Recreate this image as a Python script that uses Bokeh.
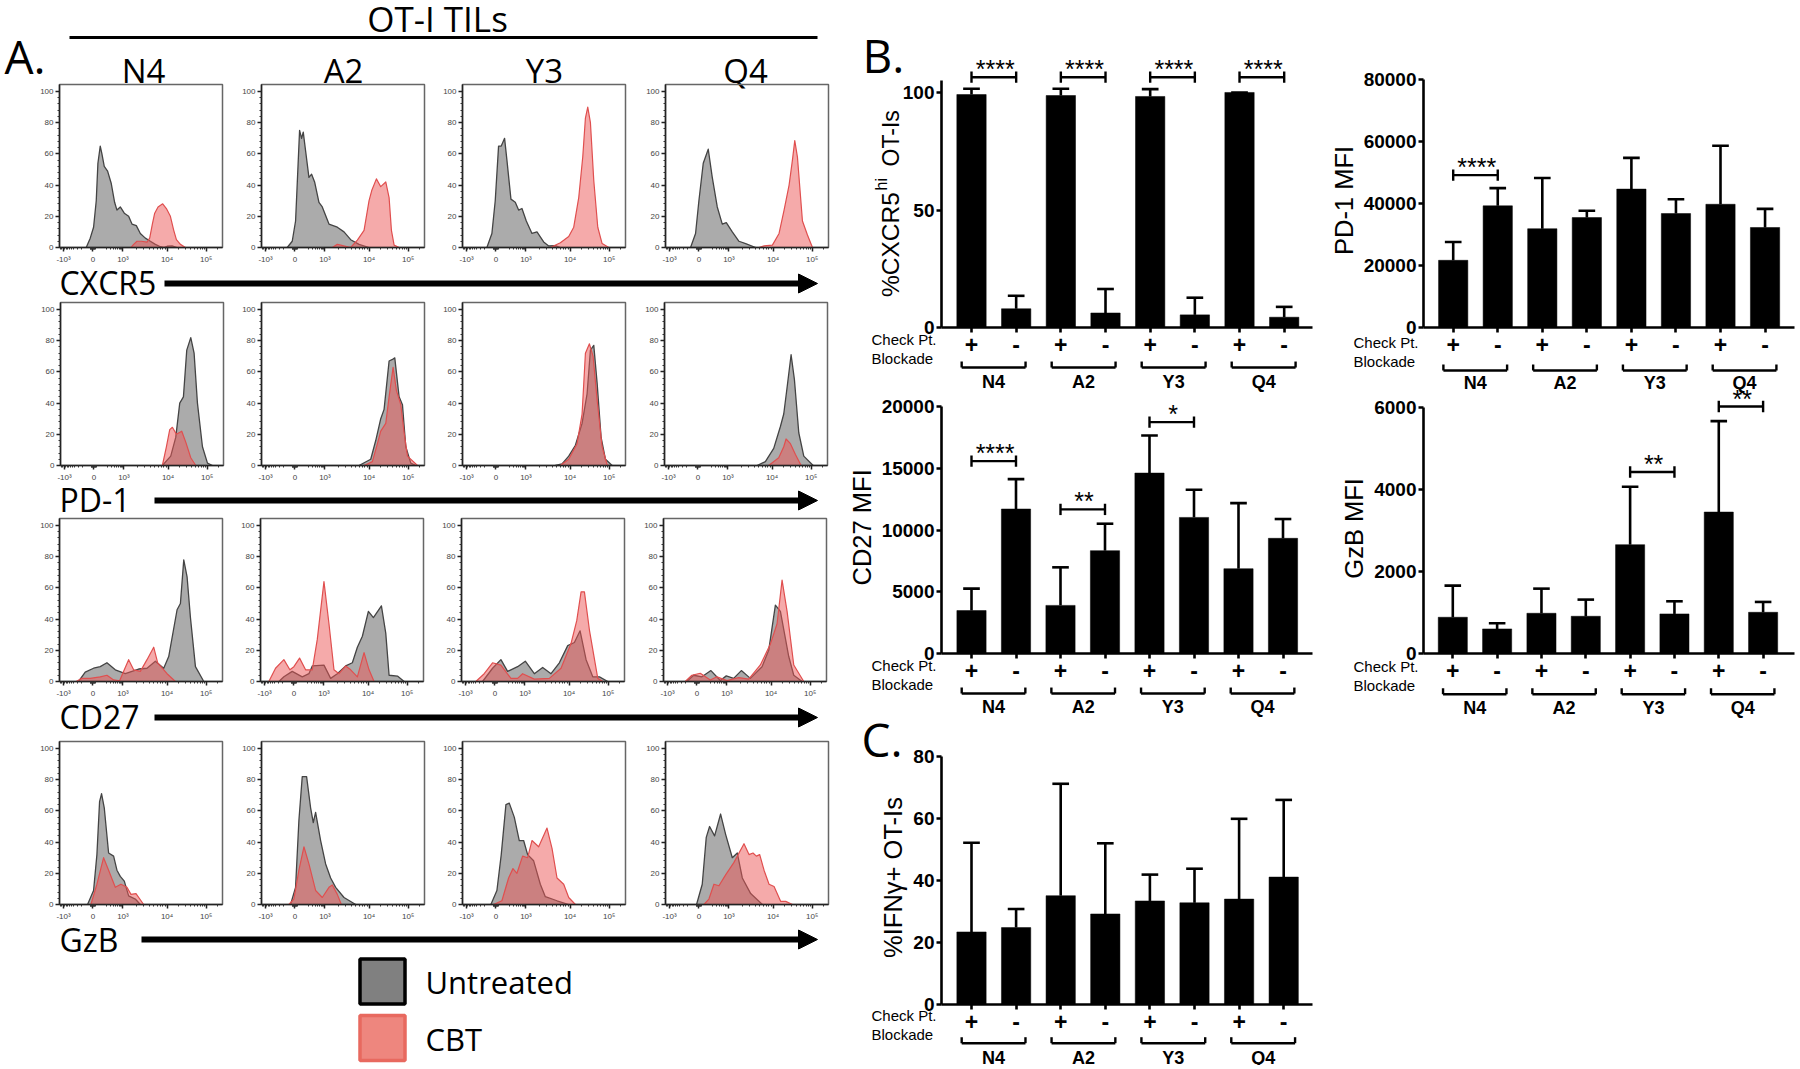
import math
from bokeh.plotting import figure
from bokeh.models import Range1d, LinearAxis, FixedTicker
from bokeh.core.properties import value
from bokeh.embed import file_html
from bokeh.resources import INLINE

# ---------- flow histograms: (channel, % of max) ----------
cxcr5_n4_untreated = [(80,0),(92,6),(102,13),(110,30),(115,54),(122,65),(127,60),(134,52),(144,49),(155,41),(165,29),(172,24),(182,26),(194,22),(207,20),(217,15),(230,14),(242,9),(257,6),(272,4),(287,2),(302,.5),(312,0),(322,.8),(337,1),(352,0)]
cxcr5_n4_cbt = [(214,0),(222,2),(232,4),(245,4),(262,3.5),(270,6),(278,15),(285,22),(295,26),(309,28),(320,25),(332,20),(342,11),(350,5),(362,2),(377,0)]
cxcr5_a2_untreated = [(77,0),(92,4),(102,17),(107,41),(114,75),(120,70),(125,74),(132,62),(142,45),(150,47),(159,42),(172,29),(182,26),(202,15),(227,13),(247,10),(267,5),(292,2),(322,0)]
cxcr5_a2_cbt = [(212,0),(227,2),(237,1.5),(267,0),(287,4.7),(307,11),(322,30),(330,36.5),(344,44),(357,39),(372,42),(382,32),(389,11),(397,1.5),(412,0)]
cxcr5_y3_untreated = [(73,0),(88,9),(98,30),(108,65),(116,65),(126,70),(133,56),(145,31),(158,29),(168,24),(178,25),(191,17),(208,9),(223,10),(243,3.6),(258,1),(278,1.2),(293,0)]
cxcr5_y3_cbt = [(263,0),(293,3),(318,7),(333,13),(348,32),(360,58),(368,83),(375,90),(383,80),(393,43),(405,13),(418,2.5),(438,0)]
cxcr5_q4_untreated = [(75,0),(90,9),(100,30),(113,54),(128,63),(140,45),(155,26),(170,15),(182,16),(200,10),(220,4),(240,2.5),(270,0)]
cxcr5_q4_cbt = [(280,0),(295,1),(320,1.5),(340,9),(355,24),(370,40),(380,56),(387,68.5),(395,58),(410,17),(425,8),(440,0)]

pd1_n4_untreated = [(305,0),(330,6),(345,18),(357,40),(368,44),(378,74),(390,82),(400,72),(410,40),(425,12),(440,1.5),(455,0)]
pd1_n4_cbt = [(305,0),(317,12),(327,23),(335,24.5),(347,20),(363,22),(375,15),(390,5),(405,0)]
pd1_a2_untreated = [(292,0),(327,4),(342,16),(357,30),(367,36),(382,67),(392,68),(399,69),(412,44),(422,39),(432,12),(447,1.5),(462,0)]
pd1_a2_cbt = [(307,0),(332,2.5),(347,14),(357,22),(372,27),(382,44),(394,63),(404,48),(417,39),(427,21),(437,6),(467,0)]
pd1_y3_untreated = [(278,0),(298,1),(318,6),(338,13),(358,27),(373,46),(383,74),(393,77),(403,53),(415,18),(428,4),(448,0)]
pd1_y3_cbt = [(293,0),(318,4),(343,14),(358,33),(368,72),(380,78),(391,70),(403,42),(418,12),(433,.5),(438,0)]
pd1_q4_untreated = [(277,0),(302,2.5),(327,11),(347,25),(357,33),(367,50),(379,71),(389,55),(402,21),(417,6),(445,0)]
pd1_q4_cbt = [(312,0),(342,5),(357,12),(364,17),(377,14),(392,7),(409,0)]

cd27_n4_untreated = [(57,0),(77,6),(102,8.5),(122,9.5),(142,12),(167,7.5),(197,5),(217,6.5),(237,8),(262,8.5),(287,13),(312,8.5),(327,16),(352,46),(362,50),(372,78),(382,67),(392,41),(407,9.5),(432,0)]
cd27_n4_cbt = [(50,0),(67,2),(92,2),(122,3),(142,4),(162,1),(180,.5),(194,7.5),(207,14),(222,7.5),(242,6.5),(262,14),(282,22),(294,12),(322,5),(347,0)]
cd27_a2_untreated = [(55,0),(70,3),(95,6.5),(125,3),(145,5),(155,10),(190,10.5),(210,2),(230,5),(255,10),(275,12),(290,22),(305,29),(323,45),(338,41),(362,48.5),(375,31),(385,4),(410,3.5),(430,0)]
cd27_a2_cbt = [(25,0),(45,8.5),(70,14),(88,7.5),(100,9.5),(117,15),(135,7.5),(155,7.5),(170,27),(190,64),(205,37),(220,7.5),(235,5),(255,10),(270,7.5),(290,3),(310,18.5),(325,7.5),(340,0)]
cd27_y3_untreated = [(63,0),(93,8.5),(118,14),(138,6.5),(168,9.5),(191,13),(218,5),(243,9),(268,5),(293,12),(318,23),(338,25),(355,32.5),(373,14),(393,3),(413,3),(438,0)]
cd27_y3_cbt = [(43,0),(68,5),(93,12),(118,10.5),(148,2),(168,2),(183,5),(218,1.5),(263,2),(298,8.5),(328,24.5),(345,39),(358,57.5),(368,57.5),(383,33),(408,2),(423,0)]
cd27_q4_untreated = [(70,0),(90,4),(115,3),(142,7),(170,.6),(188,3.6),(210,2),(233,7),(260,2),(295,9.5),(315,20),(335,49),(350,45),(375,16),(390,4),(415,0)]
cd27_q4_cbt = [(65,0),(85,4),(110,5.3),(140,1),(160,3),(190,.6),(225,2.5),(255,1.5),(290,10.6),(320,24),(340,37),(355,65),(370,45),(390,10.6),(420,0)]

gzb_n4_untreated = [(84,0),(102,9),(112,32),(120,66),(126,71),(134,62),(147,33),(162,31),(172,22),(182,18),(194,15),(207,5.5),(227,3.5),(242,0)]
gzb_n4_cbt = [(94,0),(112,13),(132,30),(147,22),(167,11),(184,13),(202,11),(214,6.5),(229,7),(252,0)]
gzb_a2_untreated = [(87,0),(102,11),(112,54),(122,82),(135,82),(147,62),(155,52.5),(162,59),(177,41),(192,26),(207,17),(222,11),(247,4.5),(282,0)]
gzb_a2_cbt = [(82,0),(97,3.5),(112,22),(127,37),(142,26),(162,9),(182,4.5),(202,11),(212,12.5),(227,6.5),(239,0)]
gzb_y3_untreated = [(85,0),(103,9),(116,32),(130,64),(140,65),(155,56),(170,41),(183,41),(195,32),(213,28),(233,13),(248,5),(283,2.4),(318,0)]
gzb_y3_cbt = [(93,0),(118,2.4),(138,17),(151,23),(163,20),(180,31),(195,30),(208,41),(228,37),(253,49),(268,36),(283,17),(303,13),(318,4.5),(338,0)]
gzb_q4_untreated = [(93,0),(110,13),(122,43),(132,50),(147,44),(165,58),(180,45),(200,30),(215,33),(230,17),(255,7),(290,0)]
gzb_q4_cbt = [(115,0),(130,3.5),(145,13),(160,12),(180,19),(205,27),(235,39),(250,32),(262,33),(272,31),(282,32),(295,22),(310,13),(325,11.5),(345,2),(360,2),(380,0)]

hist_x_ticks = [12, 100, 190, 322, 439]
hist_x_labels = ["-10\u00b3", "0", "10\u00b3", "10\u2074", "10\u2075"]
hist_y_ticks = [0, 20, 40, 60, 80, 100]

# ---------- bar panels ----------
peptides = ["N4", "A2", "Y3", "Q4"]
blockade = ["+", "-", "+", "-", "+", "-", "+", "-"]

cxcr5_pct = [99.1, 8.0, 98.7, 6.2, 98.3, 5.4, 100, 4.4]
cxcr5_pct_err = [101.6, 13.5, 101.6, 16.4, 101.4, 12.7, 100, 8.8]
cxcr5_sig = [(0, 1, 106.5, "****"), (2, 3, 106.5, "****"), (4, 5, 106.5, "****"), (6, 7, 106.5, "****")]

pd1_mfi = [21700, 39300, 31900, 35500, 44700, 36800, 39800, 32300]
pd1_mfi_err = [27600, 45000, 48300, 37700, 54800, 41400, 58700, 38300]
pd1_sig = [(0, 1, 49200, "****")]

cd27_mfi = [3480, 11700, 3900, 8330, 14610, 11020, 6870, 9330]
cd27_mfi_err = [5260, 14120, 6980, 10510, 17650, 13260, 12180, 10890]
cd27_sig = [(0, 1, 15580, "****"), (2, 3, 11670, "**"), (4, 5, 18730, "*")]

gzb_mfi = [884, 600, 981, 908, 2652, 965, 3446, 1005]
gzb_mfi_err = [1654, 738, 1581, 1314, 4063, 1273, 5660, 1257]
gzb_sig = [(4, 5, 4420, "**"), (6, 7, 6016, "**")]

ifng_pct = [23.4, 24.8, 35.1, 29.2, 33.4, 32.8, 34.0, 41.1]
ifng_pct_err = [52.2, 30.8, 71.2, 52.0, 41.9, 43.8, 59.9, 66.0]

roots = []
SANS = "Liberation Sans"
TITLE = "Open Sans"


def place(p, left, top):
    p.styles = {"position": "absolute", "left": f"{left}px", "top": f"{top}px"}
    roots.append(p)


# ---------- page-level canvas ----------
cv = figure(width=1795, height=1066, x_range=Range1d(0, 1795), y_range=Range1d(1066, 0),
            x_axis_type=None, y_axis_type=None, toolbar_location=None, output_backend="svg",
            min_border=0, outline_line_color=None, background_fill_color=None, border_fill_color=None)
cv.grid.visible = False


def label(x, y, s, size, font=TITLE, align="left", color="black", angle=0, style="normal", c=cv):
    """Text centred vertically on y (in the figure's own data units)."""
    c.text([x], [y], [s], text_font=value(font), text_font_size=f"{size}px", text_align=align,
           text_baseline="middle", text_color=color, angle=angle, text_font_style=style)


def base_label(x, base, s, size, **kw):
    """Page text given by its baseline: the cap-height centre is 0.36 em above it."""
    label(x, base - 0.36 * size, s, size, **kw)


def arrow(x0, y):
    cv.segment([x0], [y], [800], [y], line_color="black", line_width=6)
    cv.patch([798, 817, 798], [y - 9.5, y, y + 9.5], fill_color="black", line_color="black")


base_label(437, 31, "OT-I TILs", 35, align="center")
cv.segment([69], [37], [817], [37], line_color="black", line_width=3)
base_label(4, 72, "A.", 46)
base_label(862, 71, "B.", 46)
base_label(861, 755, "C.", 46)
for x, s in zip([143, 343, 544, 745], peptides):
    base_label(x, 82, s, 33, align="center")
for s, base, x0, y in [("CXCR5", 294, 164, 283), ("PD-1", 511, 154, 500), ("CD27", 728, 154, 717), ("GzB", 951, 141, 939)]:
    base_label(59, base, s, 32)
    arrow(x0, y)
cv.quad(left=[359.5], right=[404.5], top=[958.5], bottom=[1003.5], fill_color="#808080", line_color="#000000", line_width=3.5)
cv.quad(left=[359.5], right=[404.5], top=[1015], bottom=[1060], fill_color="#EE867E", line_color="#E8695F", line_width=3.5)
base_label(425, 993, "Untreated", 31)
base_label(425, 1050, "CBT", 31)
place(cv, 0, 0)

# ---------- flow histogram small multiples ----------
def hist_minor():
    out = []
    for a, b in [(190, 322), (322, 439)]:
        out += [a + (b - a) * math.log10(k) for k in range(2, 10)]
    out += [439 + 117 * math.log10(k) for k in range(2, 4)]
    out += [118 + 72 * math.log10(k) for k in range(2, 10)]
    out += [90 - 78 * math.log10(k) for k in range(2, 10)]
    out += [92 + 1.5 * k for k in range(11)]
    out += [6, 3]
    return out


FW, FH = 163, 163
for r, (tp, lefts, curves) in enumerate([
    (84, [59, 261, 462, 665], [(cxcr5_n4_untreated, cxcr5_n4_cbt), (cxcr5_a2_untreated, cxcr5_a2_cbt), (cxcr5_y3_untreated, cxcr5_y3_cbt), (cxcr5_q4_untreated, cxcr5_q4_cbt)]),
    (302, [60, 261, 462, 664], [(pd1_n4_untreated, pd1_n4_cbt), (pd1_a2_untreated, pd1_a2_cbt), (pd1_y3_untreated, pd1_y3_cbt), (pd1_q4_untreated, pd1_q4_cbt)]),
    (518, [59, 260, 461, 663], [(cd27_n4_untreated, cd27_n4_cbt), (cd27_a2_untreated, cd27_a2_cbt), (cd27_y3_untreated, cd27_y3_cbt), (cd27_q4_untreated, cd27_q4_cbt)]),
    (741, [59, 261, 462, 665], [(gzb_n4_untreated, gzb_n4_cbt), (gzb_a2_untreated, gzb_a2_cbt), (gzb_y3_untreated, gzb_y3_cbt), (gzb_q4_untreated, gzb_q4_cbt)]),
]):
    for left, (gray, red) in zip(lefts, curves):
        p = figure(width=FW + 36, height=FH + 26, x_range=Range1d(0, 488), y_range=Range1d(0, 104.5),
                   x_axis_type=None, y_axis_type=None, toolbar_location=None, output_backend="svg",
                   min_border_left=30, min_border_right=6, min_border_top=4, min_border_bottom=22,
                   outline_line_color="#666666", outline_line_width=1.5,
                   background_fill_color=None, border_fill_color=None)
        p.grid.visible = False
        xa = LinearAxis(ticker=FixedTicker(ticks=hist_x_ticks, minor_ticks=hist_minor()),
                        major_label_overrides=dict(zip(hist_x_ticks, hist_x_labels)))
        ya = LinearAxis(ticker=FixedTicker(ticks=hist_y_ticks, minor_ticks=[v for v in range(0, 101, 4) if v % 20]))
        for a in (xa, ya):
            a.axis_line_color = "#222222"
            a.axis_line_width = 1.5
            a.major_tick_line_color = "#222222"
            a.major_tick_line_width = 1.5
            a.minor_tick_line_color = "#333333"
            a.major_tick_in = 0
            a.minor_tick_in = 0
            a.major_tick_out = 4
            a.minor_tick_out = 2
            a.major_label_text_font = SANS
            a.major_label_text_font_size = "8px"
            a.major_label_text_color = "#444444"
            a.major_label_standoff = 2
        xa.major_label_standoff = 3
        p.add_layout(xa, "below")
        p.add_layout(ya, "left")
        for pts, fill, line, fa, lw in [(gray, "#666666", "#444444", 0.55, 1.3), (red, "#EB5555", "#E04F4F", 0.5, 1.2)]:
            xs = [q[0] for q in pts]
            ys = [q[1] for q in pts]
            p.varea(xs, [0] * len(ys), ys, fill_color=fill, fill_alpha=fa)
            p.line(xs, ys, line_color=line, line_width=lw, line_join="round")
        place(p, left - 30, tp - 4)


# ---------- bar panels ----------
def bar_panel(vals, errs, sig, axis_x, y0, tick_px, tick_val, ax_top, ticks, c0, sp, top, title, title_xy,
              check_off, gb_off, lab_off, bottom_off=72):
    L, R, T, B = axis_x - 100, axis_x + 372, top, y0 + bottom_off
    s = (y0 - tick_px) / tick_val
    xd = lambda px: (px - c0) / sp
    yd = lambda py: (y0 - py) / s
    p = figure(width=int(R - L), height=int(B - T), x_range=Range1d(xd(L), xd(R)), y_range=Range1d(yd(B), yd(T)),
               x_axis_type=None, y_axis_type=None, toolbar_location=None, output_backend="svg",
               min_border=0, outline_line_color=None, background_fill_color=None, border_fill_color=None)
    p.grid.visible = False
    xs = list(range(len(vals)))
    p.vbar(x=xs, top=vals, bottom=0, width=0.657, fill_color="black", line_color="black", line_width=0.5)
    p.segment(xs, vals, xs, errs, line_color="black", line_width=2.6)
    p.segment([i - .187 for i in xs], errs, [i + .187 for i in xs], errs, line_color="black", line_width=2.6)

    xa = LinearAxis(ticker=FixedTicker(ticks=xs), major_label_overrides=dict(zip(xs, blockade)),
                    fixed_location=0, bounds=(xd(axis_x), xd(R - 1)))
    ya = LinearAxis(ticker=FixedTicker(ticks=ticks), fixed_location=xd(axis_x), bounds=(0, ax_top))
    for a in (xa, ya):
        a.axis_line_color = "black"
        a.axis_line_width = 2.6
        a.major_tick_line_color = "black"
        a.major_tick_line_width = 2.6
        a.minor_tick_line_color = None
        a.major_tick_in = 0
        a.major_tick_out = 5
        a.major_label_text_color = "black"
        a.major_label_text_font = SANS
        a.major_label_text_font_style = "bold"
    ya.major_label_text_font_size = "19px"
    ya.major_label_standoff = 2
    xa.major_label_text_font_size = "23px"
    xa.major_label_standoff = 3
    p.add_layout(xa, "below")
    p.add_layout(ya, "left")

    tip = 5.7 / s
    for a, b, y, stars in sig:
        p.segment([a], [y], [b], [y], line_color="black", line_width=2.4)
        p.segment([a, b], [y - tip] * 2, [a, b], [y + tip] * 2, line_color="black", line_width=2.4)
        p.text([(a + b) / 2 + .03], [y + 8 / s], [stars], text_font=value(SANS), text_font_size="25px",
               text_align="center", text_baseline="middle", text_color="black")

    label(xd(axis_x - 70), yd(y0 + check_off), "Check Pt.", 15, SANS, c=p)
    label(xd(axis_x - 70), yd(y0 + check_off + 19), "Blockade", 15, SANS, c=p)

    for k, name in enumerate(peptides):
        g0 = k * 2.015 - .22
        g1 = g0 + 1.43
        p.segment([g0], [yd(y0 + gb_off)], [g1], [yd(y0 + gb_off)], line_color="black", line_width=2.4)
        p.segment([g0, g1], [yd(y0 + gb_off)] * 2, [g0, g1], [yd(y0 + gb_off - 6)] * 2, line_color="black", line_width=2.4)
        label((g0 + g1) / 2, yd(y0 + lab_off), name, 18, SANS, align="center", style="bold", c=p)

    if isinstance(title, str):
        label(xd(title_xy[0]), yd(title_xy[1]), title, 25.5, SANS, align="center", angle=math.pi / 2, c=p)
    else:
        for text, size, dx, ystart in title:
            label(xd(title_xy[0] + dx), yd(ystart), text, size, SANS, align="left", angle=math.pi / 2, c=p)
    place(p, L, T)


bar_panel(cxcr5_pct, cxcr5_pct_err, cxcr5_sig, 941, 327.3, 92, 100, 105, [0, 50, 100], 971, 44.67, 45,
          [("%CXCR5", 24.5, 0, 296.7), ("hi", 16, -9, 190), ("OT-Is", 23, 0, 166)], (890, 202), 12, 40, 54)
bar_panel(pd1_mfi, pd1_mfi_err, pd1_sig, 1423, 327, 79.3, 80000, 80000, [0, 20000, 40000, 60000, 80000], 1452.7, 44.55, 68,
          "PD-1 MFI", (1343, 200), 15, 43, 55)
bar_panel(cd27_mfi, cd27_mfi_err, cd27_sig, 941, 653.3, 406, 20000, 20000, [0, 5000, 10000, 15000, 20000], 971, 44.5, 385,
          "CD27 MFI", (861, 527), 11.5, 40, 53)
bar_panel(gzb_mfi, gzb_mfi_err, gzb_sig, 1423, 653.3, 406.7, 6000, 6000, [0, 2000, 4000, 6000], 1452.3, 44.33, 375,
          "GzB MFI", (1353, 528), 12.5, 40.7, 54)
bar_panel(ifng_pct, ifng_pct_err, [], 941, 1004, 756, 80, 80, [0, 20, 40, 60, 80], 971, 44.6, 745,
          "%IFN\u03b3+ OT-Is", (892, 877), 11, 38.7, 53, bottom_off=61)

open("out.html", "w").write(file_html(roots, INLINE))
